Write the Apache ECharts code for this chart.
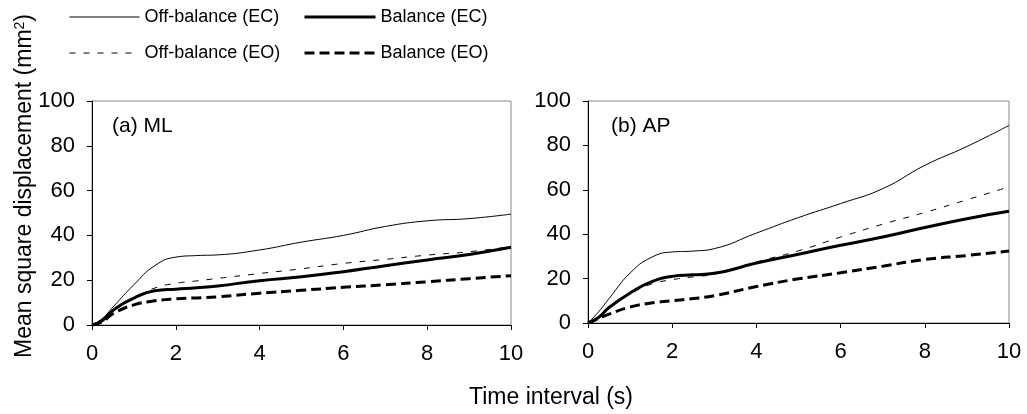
<!DOCTYPE html>
<html>
<head>
<meta charset="utf-8">
<script src="https://cdn.jsdelivr.net/npm/echarts@6/dist/echarts.min.js"></script>
<style>
    html, body { margin: 0; padding: 0; background: #fff; }
    #chart { width: 1027px; height: 414px; }
</style>
</head>
<body>
<div id="chart"></div>
<script>
// time interval (s)
var timeValues = [0, 0.25, 0.5, 1, 1.5, 2, 2.5, 3, 4, 5, 6, 7, 8, 9, 10];

// (a) ML
var mlOffEC = [0, 3, 8, 18, 26.5, 30.3, 31, 31.3, 33.5, 37, 40, 44, 46.5, 47.5, 49.5];
var mlBalEC = [0, 2, 6.5, 12, 15.3, 16, 16.6, 17.4, 19.8, 21.5, 23.8, 26.5, 29, 31.5, 34.7];
var mlOffEO = [0, 2, 6.5, 12, 16.5, 18.6, 19.7, 20.8, 23, 25.1, 27.5, 29.3, 31.2, 32.7, 35];
var mlBalEO = [0, 1.5, 5, 9, 10.8, 11.7, 12.1, 12.6, 14.2, 15.5, 16.8, 18, 19.3, 20.7, 22];

// (b) AP
var apOffEC = [0, 5, 11, 22.5, 29.5, 32, 32.4, 33.5, 40.5, 47.5, 53.8, 60.5, 71, 79.5, 89];
var apBalEC = [0, 2.5, 7, 13.5, 18.5, 21, 21.7, 22.4, 27, 31, 35, 38.7, 43, 47, 50.3];
var apOffEO = [0, 2.5, 7, 13, 17.5, 19.5, 20.8, 22, 27.5, 32.5, 38.7, 44.5, 49.8, 55.5, 61.3];
var apBalEO = [0, 2, 4, 7.2, 9, 10, 11, 12.3, 16.4, 19.9, 22.6, 25.6, 28.6, 30.4, 32.4];

var seriesNames = ['Off-balance (EC)', 'Balance (EC)', 'Off-balance (EO)', 'Balance (EO)'];
var yTicks = [0, 20, 40, 60, 80, 100];
var xTicks = [0, 2, 4, 6, 8, 10];

var font = 'Arial, "Liberation Sans", Helvetica, sans-serif';

var lineStyles = [
    { width: 1, type: 'solid' },
    { width: 3, type: 'solid' },
    { width: 1, type: [6, 8] },
    { width: 3, type: [10, 5] }
];

var pairs = function (vals) {
    return timeValues.map(function (t, i) { return [t, vals[i]]; });
};

var makeSeries = function (name, vals, idx, panel) {
    var ls = lineStyles[seriesNames.indexOf(name)];
    return {
        name: name,
        type: 'line',
        xAxisIndex: panel,
        yAxisIndex: panel,
        data: pairs(vals),
        smooth: 0.5,
        symbol: 'none',
        silent: true,
        z: 10 - idx,
        itemStyle: { color: '#000' },
        lineStyle: { color: '#000', width: ls.width, type: ls.type }
    };
};

var makeXAxis = function (gridIndex) {
    return {
        type: 'value',
        gridIndex: gridIndex,
        min: xTicks[0],
        max: xTicks[xTicks.length - 1],
        interval: 2,
        axisLine: { show: true, onZero: false, lineStyle: { color: '#000', width: 1 } },
        axisTick: { show: true, length: 5, lineStyle: { color: '#000' } },
        axisLabel: { color: '#000', fontSize: 22, fontFamily: font, margin: 18 },
        splitLine: { show: false }
    };
};

var makeYAxis = function (gridIndex) {
    return {
        type: 'value',
        gridIndex: gridIndex,
        min: yTicks[0],
        max: yTicks[yTicks.length - 1],
        interval: 20,
        axisLine: { show: true, onZero: false, lineStyle: { color: '#000', width: 1 } },
        axisTick: { show: true, length: 5, lineStyle: { color: '#000' } },
        axisLabel: { color: '#000', fontSize: 22, fontFamily: font, margin: 17 },
        splitLine: { show: false }
    };
};

var makeLegend = function (idx, left, top, width) {
    var ls = lineStyles[idx];
    return {
        data: [seriesNames[idx]],
        left: left,
        top: top,
        itemWidth: width,
        itemHeight: 14,
        padding: 0,
        selectedMode: false,
        itemStyle: { opacity: 0 },
        lineStyle: { color: '#000', width: ls.width, type: ls.type },
        textStyle: { color: '#000', fontSize: 18, fontFamily: font }
    };
};

var option = {
    animation: false,
    backgroundColor: '#fff',
    legend: [
        makeLegend(0, 69, 8, 70),
        makeLegend(1, 303, 8, 71),
        makeLegend(2, 69, 44, 70),
        makeLegend(3, 303, 44, 71)
    ],
    grid: [
        { left: 92, right: 516, top: 101, bottom: 89, show: true, borderColor: '#888', borderWidth: 1 },
        { left: 588, right: 18, top: 101, bottom: 91, show: true, borderColor: '#888', borderWidth: 1 }
    ],
    xAxis: [makeXAxis(0), makeXAxis(1)],
    yAxis: [makeYAxis(0), makeYAxis(1)],
    graphic: [
        {
            type: 'text', left: 112, top: 116,
            style: { text: '(a) ML', fill: '#000', fontSize: 21, fontFamily: font }
        },
        {
            type: 'text', left: 611, top: 116,
            style: { text: '(b) AP', fill: '#000', fontSize: 21, fontFamily: font }
        },
        {
            type: 'text', x: 551, y: 398,
            style: {
                text: 'Time interval (s)', fill: '#000', fontSize: 23, fontFamily: font,
                align: 'center', verticalAlign: 'middle'
            }
        },
        {
            type: 'text', x: 25, y: 186, rotation: Math.PI / 2,
            style: {
                text: 'Mean square displacement (mm{sup|2})', fill: '#000', fontSize: 23, fontFamily: font,
                align: 'center', verticalAlign: 'middle',
                rich: { sup: { fontSize: 14, fontFamily: font, fill: '#000', verticalAlign: 'top', padding: [0, 0, 10, 0] } }
            }
        }
    ],
    series: [
        makeSeries(seriesNames[0], mlOffEC, 0, 0),
        makeSeries(seriesNames[2], mlOffEO, 1, 0),
        makeSeries(seriesNames[1], mlBalEC, 2, 0),
        makeSeries(seriesNames[3], mlBalEO, 3, 0),
        makeSeries(seriesNames[0], apOffEC, 0, 1),
        makeSeries(seriesNames[2], apOffEO, 1, 1),
        makeSeries(seriesNames[1], apBalEC, 2, 1),
        makeSeries(seriesNames[3], apBalEO, 3, 1)
    ]
};

var myChart = echarts.init(document.getElementById('chart'));
myChart.setOption(option);
</script>
</body>
</html>
